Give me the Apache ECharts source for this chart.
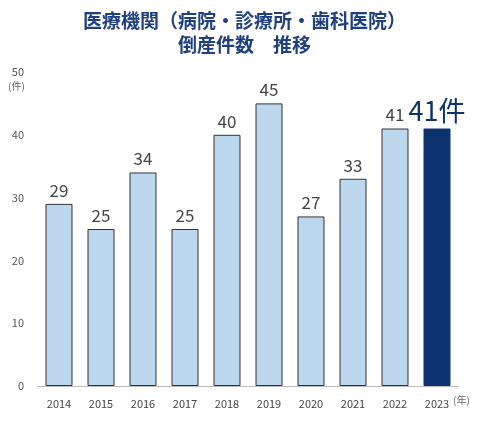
<!DOCTYPE html>
<html><head><meta charset="utf-8">
<script src="https://cdn.jsdelivr.net/npm/echarts@6/dist/echarts.min.js"></script>
<style>html,body{margin:0;padding:0;background:#fff}#c{width:489px;height:429px}</style>
</head><body><div id="c"></div>
<script>
var years = ['2014','2015','2016','2017','2018','2019','2020','2021','2022','2023'];
var counts = [29, 25, 34, 25, 40, 45, 27, 33, 41, 41];
var yTicks = [0, 10, 20, 30, 40, 50];

var chart = echarts.init(document.getElementById('c'));
var font = '"Noto Sans CJK JP", "Noto Sans", sans-serif';
var last = counts.length - 1;
chart.setOption({
    animation: false,
    textStyle: { fontFamily: font },
    title: {
        text: '医療機関（病院・診療所・歯科医院）\n倒産件数　推移',
        left: 'center', top: 4,
        textStyle: { color: '#1f3f7f', fontSize: 19, fontWeight: 'bold', lineHeight: 24, fontFamily: font }
    },
    grid: { left: 38, right: 31, top: 72, bottom: 43 },
    xAxis: {
        type: 'category', data: years,
        axisLine: { lineStyle: { color: '#bbb' } },
        axisTick: { show: false },
        axisLabel: { color: '#444', fontSize: 11, margin: 12 }
    },
    yAxis: {
        type: 'value', min: 0, max: 50, interval: 10,
        splitLine: { show: false },
        axisLabel: { color: '#555', fontSize: 11, margin: 14,
            formatter: function (v) { return yTicks.indexOf(v) >= 0 ? v : ''; } }
    },
    graphic: [
        { type: 'text', left: 8, top: 81, style: { text: '(件)', fill: '#666', fontSize: 10, fontFamily: font } },
        { type: 'text', left: 453, top: 395, style: { text: '(年)', fill: '#666', fontSize: 10, fontFamily: font } }
    ],
    series: [{
        type: 'bar', barWidth: 27,
        data: counts.map(function (v, i) {
            if (i === last) {
                return { value: v, itemStyle: { color: '#0c3370', borderColor: '#0c3370' },
                    label: { formatter: '{c}件', fontSize: 27, color: '#0c3370', distance: 4 } };
            }
            return v;
        }),
        itemStyle: { color: '#bdd7ee', borderColor: '#333', borderWidth: 1 },
        label: { show: true, position: 'top', color: '#444', fontSize: 17, distance: 5 }
    }]
});
</script></body></html>
